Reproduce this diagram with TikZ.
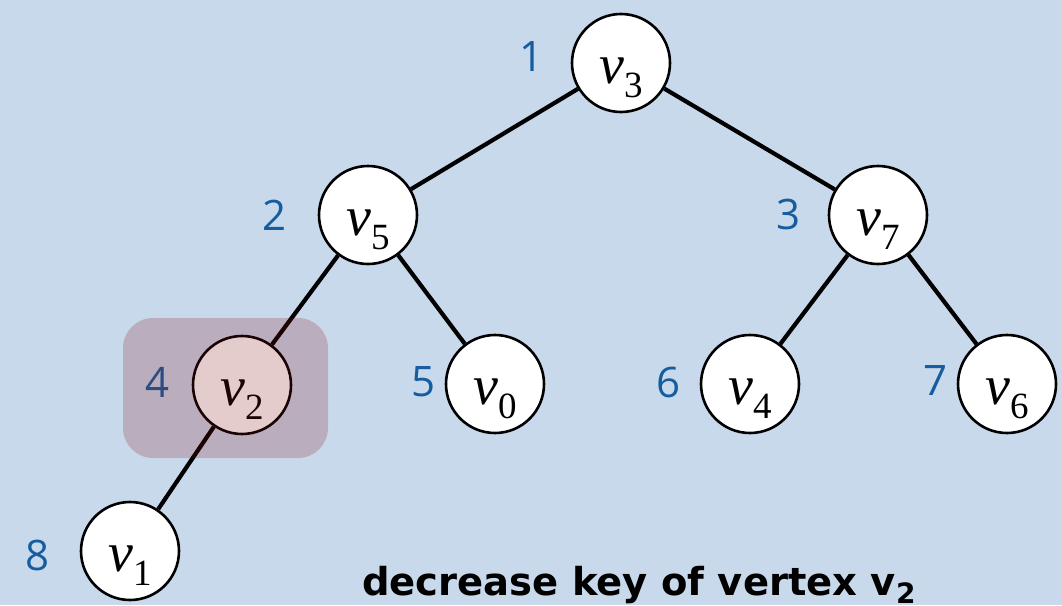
\documentclass[tikz,border=0pt]{standalone}
\usepackage{fontspec}
\newfontfamily\labelfont{Open Sans}
\newfontfamily\captionfont{DejaVu Sans}
\newfontfamily\vfont{Liberation Serif}
\definecolor{bgblue}{RGB}{201,217,236}
\definecolor{numblue}{RGB}{22,93,160}
\definecolor{marker}{RGB}{132,18,20}
% vertex name: italic v with a lowered index
\newcommand{\vname}[1]{{\vfont\itshape\fontsize{56}{60}\selectfont v}\raisebox{-14pt}{\vfont\fontsize{37}{40}\selectfont #1}}
\begin{document}
\begin{tikzpicture}[x=1pt,y=-1pt,
  vertex/.style={circle,draw=black,fill=white,line width=2.6pt,minimum size=98pt,inner sep=0pt,
    text height=40pt,text depth=0pt},
  idx/.style={text=numblue,font=\labelfont\fontsize{42}{46}\selectfont,inner sep=0pt},
  edge/.style={line width=4.2pt}]
\fill[bgblue] (0,0) rectangle (1062,605);
% heap vertices
\node[vertex] (v3) at (621,63) {\vname{3}};
\node[vertex] (v5) at (368,215) {\vname{5}};
\node[vertex] (v7) at (878,215) {\vname{7}};
\node[vertex] (v2) at (242,385) {\vname{2}};
\node[vertex] (v0) at (495,384) {\vname{0}};
\node[vertex] (v4) at (750,384) {\vname{4}};
\node[vertex] (v6) at (1007,384) {\vname{6}};
\node[vertex] (v1) at (130,551) {\vname{1}};
% tree edges
\draw[edge] (v3) -- (v5);
\draw[edge] (v3) -- (v7);
\draw[edge] (v5) -- (v2);
\draw[edge] (v5) -- (v0);
\draw[edge] (v7) -- (v4);
\draw[edge] (v7) -- (v6);
\draw[edge] (v2) -- (v1);
% array positions
\node[idx] (i1) at (531,57) {1};
\node[idx] (i2) at (275,215) {2};
\node[idx] (i3) at (788,214) {3};
\node[idx] (i4) at (158,382) {4};
\node[idx] (i5) at (424,382) {5};
\node[idx] (i6) at (668,382) {6};
\node[idx] (i7) at (935,381) {7};
\node[idx] (i8) at (38,555) {8};
% highlight on the vertex whose key decreases
\fill[marker,fill opacity=0.21,rounded corners=30pt] (123,318) rectangle (328,458);
\node[anchor=base west,font=\captionfont\bfseries\fontsize{38.5}{42}\selectfont,inner sep=0pt] (cap) at (362,595)
  {decrease key of vertex v\raisebox{-8pt}{\fontsize{28}{30}\selectfont 2}};
\end{tikzpicture}
\end{document}
